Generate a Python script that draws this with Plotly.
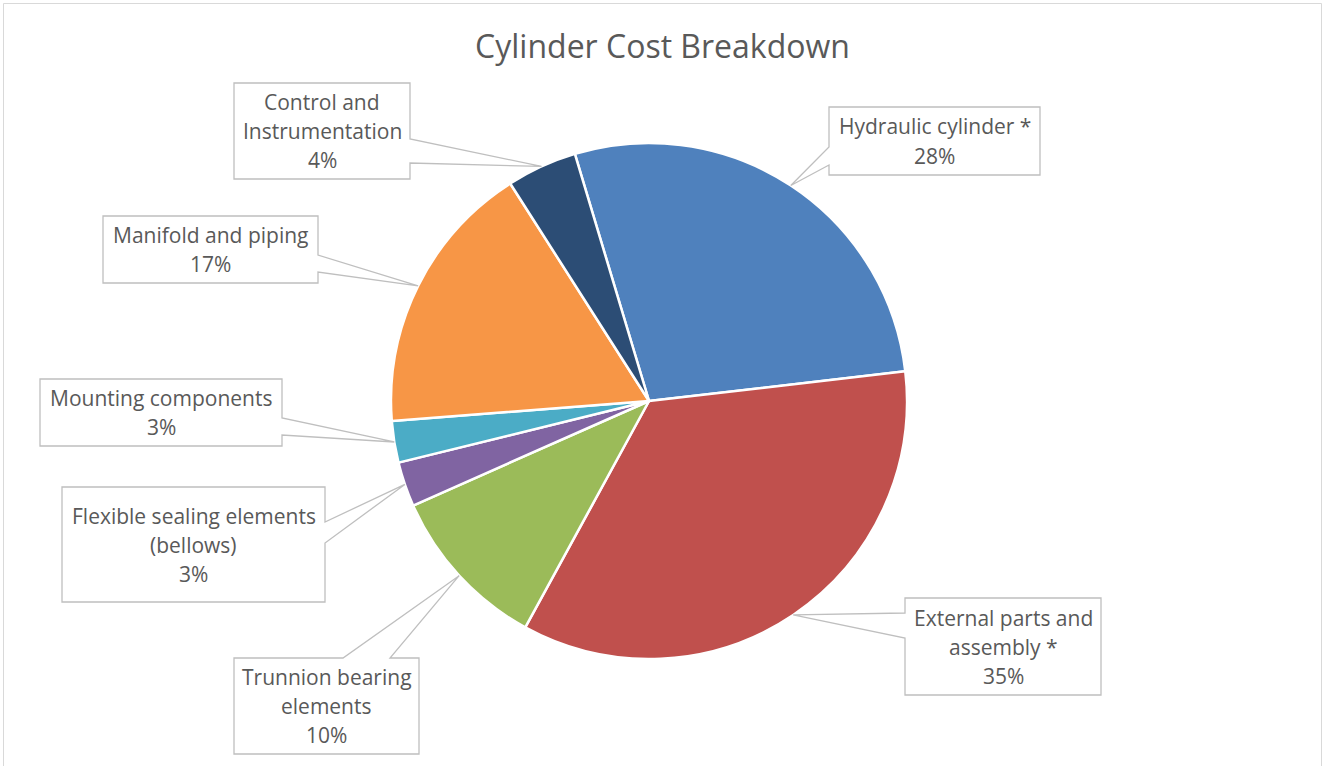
import math
import plotly.graph_objects as go

# ---------------- data ----------------
categories = [
    "Hydraulic cylinder *",
    "External parts and assembly *",
    "Trunnion bearing elements",
    "Flexible sealing elements (bellows)",
    "Mounting components",
    "Manifold and piping",
    "Control and Instrumentation",
]
# callout text split into lines as shown in the chart
callout_lines = [
    ["Hydraulic cylinder *"],
    ["External parts and", "assembly *"],
    ["Trunnion bearing", "elements"],
    ["Flexible sealing elements", "(bellows)"],
    ["Mounting components"],
    ["Manifold and piping"],
    ["Control and", "Instrumentation"],
]
shares = [27.8, 34.8, 10.4, 2.8, 2.6, 17.2, 4.4]
colors = ["#4F81BD", "#C0504D", "#9BBB59", "#8064A2", "#4BACC6", "#F79646", "#2C4D75"]

# ---------------- layout ----------------
W, H = 1325, 766
CX, CY, R = 649, 401, 258          # pie centre / radius in px
ROT = -16.7                        # first slice start angle (deg, clockwise from 12 o'clock)
TEXT = "#595959"
EDGE = "#BFBFBF"
FONT = "Open Sans"
LINE_GAP = 29                      # px between text lines in callouts

# callout boxes: x0, x1, y0, y1 (px), side of pointer, pointer base positions
boxes = [
    dict(x0=829, x1=1040, y0=107, y1=175, side="left", a=147, b=165),
    dict(x0=905, x1=1101, y0=598, y1=695, side="left", a=613, b=638),
    dict(x0=234, x1=419, y0=658, y1=754, side="top", a=343, b=390),
    dict(x0=62, x1=325, y0=487, y1=602, side="right", a=522, b=543),
    dict(x0=40, x1=282, y0=379, y1=446, side="right", a=418, b=435),
    dict(x0=103, x1=318, y0=216, y1=283, side="right", a=255, b=272),
    dict(x0=234, x1=410, y0=83, y1=179, side="right", a=139, b=163),
]


def px(x, y):
    return x / W, 1 - y / H


def path_from(points):
    s = ""
    for i, (x, y) in enumerate(points):
        u, v = px(x, y)
        s += ("M" if i == 0 else "L") + f"{u:.5f},{v:.5f} "
    return s + "Z"


fig = go.Figure()
fig.add_trace(go.Pie(
    labels=categories,
    values=shares,
    sort=False,
    direction="clockwise",
    rotation=ROT,
    marker=dict(colors=colors, line=dict(color="white", width=2.5)),
    textinfo="none",
    hoverinfo="label+percent",
    showlegend=False,
    domain=dict(x=[(CX - R) / W, (CX + R) / W], y=[(H - CY - R) / H, (H - CY + R) / H]),
))

total = sum(shares)
shapes = [dict(type="rect", xref="paper", yref="paper",
               x0=3.5 / W, x1=1321.5 / W, y0=1 - 780 / H, y1=1 - 3.5 / H,
               line=dict(color="#D9D9D9", width=1), layer="below")]
annotations = []
cum = 0.0
for lines, v, b in zip(callout_lines, shares, boxes):
    mid = math.radians(ROT + 360 * (cum + v / 2) / total)
    cum += v
    ax, ay = CX + R * math.sin(mid), CY - R * math.cos(mid)
    x0, x1, y0, y1 = b["x0"], b["x1"], b["y0"], b["y1"]
    if b["side"] == "right":
        pts = [(x0, y0), (x1, y0), (x1, b["a"]), (ax, ay), (x1, b["b"]), (x1, y1), (x0, y1)]
    elif b["side"] == "left":
        pts = [(x0, y0), (x1, y0), (x1, y1), (x0, y1), (x0, b["b"]), (ax, ay), (x0, b["a"])]
    else:
        pts = [(x0, y0), (b["a"], y0), (ax, ay), (b["b"], y0), (x1, y0), (x1, y1), (x0, y1)]
    shapes.append(dict(type="path", xref="paper", yref="paper", path=path_from(pts),
                       fillcolor="white", line=dict(color=EDGE, width=1.3), layer="above"))
    pct = round(v / total * 100)
    all_lines = lines + [f"{pct}%"]
    n = len(all_lines)
    xc, yc = (x0 + x1) / 2, (y0 + y1) / 2
    for i, t in enumerate(all_lines):
        u, w = px(xc, yc + (i - (n - 1) / 2) * LINE_GAP)
        annotations.append(dict(xref="paper", yref="paper", x=u, y=w, xanchor="center", yanchor="middle",
                                text=t, showarrow=False, align="center",
                                font=dict(family=FONT, size=21, color=TEXT)))

fig.update_layout(
    width=W, height=H,
    margin=dict(l=0, r=0, t=0, b=0),
    paper_bgcolor="white", plot_bgcolor="white",
    title=dict(text="Cylinder Cost Breakdown", x=0.5, xanchor="center", y=1 - 47 / H, yanchor="middle",
               font=dict(family=FONT, size=32, color=TEXT)),
    shapes=shapes,
    annotations=annotations,
)

fig.write_html("out.html")
